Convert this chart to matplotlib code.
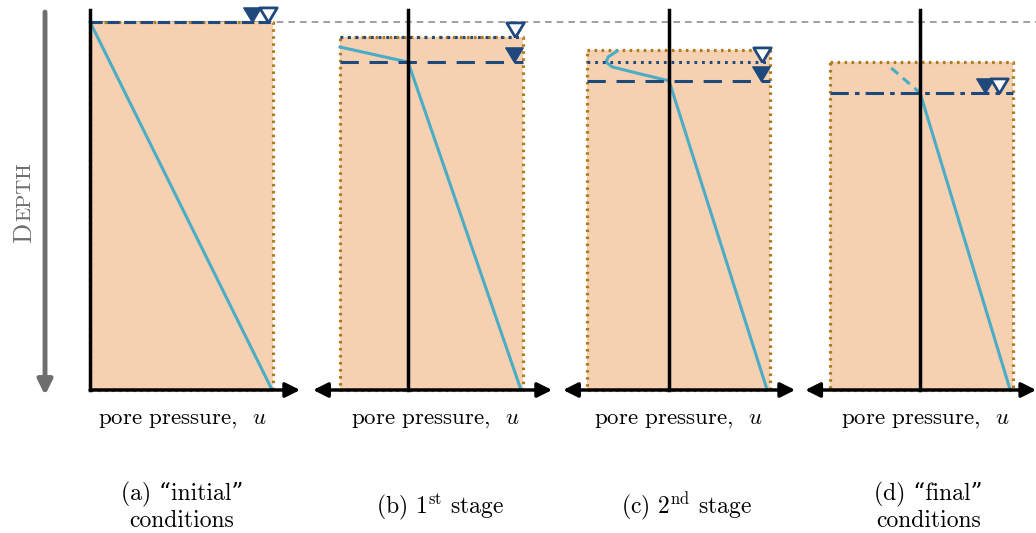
import numpy as np
import matplotlib
matplotlib.use("Agg")
import matplotlib.pyplot as plt

# ---- schematic values (u = pore pressure, z = depth, both normalised) ----
panel_offset = [0.0, 1.738, 3.164, 4.536]      # where u = 0 sits for each panel
box_left = [0.0, -0.372, -0.448, -0.492]
box_width = 1.0
box_top = [0.0, 0.041, 0.076, 0.109]
box_bottom = 1.0
piezo_level = [0.0, 0.041, 0.109, 0.193]       # open triangle
phreatic_level = [0.0, 0.109, 0.160, 0.193]    # filled triangle
piezo_tri_u = [0.973, 0.585, 0.508, 0.432]
phreatic_tri_u = [0.885, 0.579, 0.503, 0.355]
axis_left = [0.0, -0.519, -0.579, -0.628]
axis_right = [1.148, 0.787, 0.689, 0.634]
axis_top = -0.033

pore_u = [
    [0.0, 0.995],
    [-0.372, 0.0, 0.617],
    [-0.284, -0.333, -0.344, -0.311, -0.158, 0.0, 0.536],
    [0.0, 0.492],
]
pore_z = [
    [0.0, 1.0],
    [0.068, 0.109, 1.0],
    [0.079, 0.095, 0.109, 0.122, 0.141, 0.160, 1.0],
    [0.193, 1.0],
]
final_dashed_u = [-0.158, 0.0]
final_dashed_z = [0.125, 0.193]

xlabel = r"pore pressure,  $u$"
xlabel_u = [0.503, 0.148, 0.049, 0.027]
captions = ["(a) \u201cinitial\u201d\nconditions",
            r"(b) 1$^{\rm st}$ stage",
            r"(c) 2$^{\rm nd}$ stage",
            "(d) \u201cfinal\u201d\nconditions"]
caption_u = [0.503, 0.175, 0.093, 0.044]

fill_col = "#F5D1B2"
edge_col = "#AE7A1E"
pore_col = "#4BACC6"
wt_col = "#1F497D"

plt.rcParams['font.family'] = ['cmr10', 'DejaVu Serif']
plt.rcParams['mathtext.fontset'] = 'cm'
plt.rcParams['axes.unicode_minus'] = False

fig = plt.figure(figsize=(10.36, 5.33), dpi=100)
ax = fig.add_axes([0, 0, 1, 1])
ax.set_xlim(-0.492, 5.169)
ax.set_ylim(1.3886, -0.0598)
ax.axis('off')

# reference level across all panels
ax.plot([panel_offset[0], 5.169], [0, 0], color='#909090', lw=1.2, ls=(0, (4, 3)), zorder=1)

tri_down = [(0, 0), (-0.6, 1.0), (0.6, 1.0), (0, 0)]

for i in range(4):
    o = panel_offset[i]
    x0 = o + box_left[i]
    x1 = x0 + box_width
    t = box_top[i]
    ax.fill_between([x0, x1], t, box_bottom, color=fill_col, lw=0, zorder=2)
    ax.plot([x0, x1, x1, x0, x0], [t, t, box_bottom, box_bottom, t],
            color=edge_col, lw=2.3, ls=(0, (0.8, 1.4)), zorder=3)

    # pore pressure profile
    ax.plot(np.array(pore_u[i]) + o, pore_z[i], color=pore_col, lw=2.2, zorder=4)
    if i == 3:
        ax.plot(np.array(final_dashed_u) + o, final_dashed_z, color=pore_col, lw=2.2,
                ls=(0, (3, 2)), zorder=4)

    # water levels
    if i == 0:
        ax.plot([x0, x1], [piezo_level[i]] * 2, color=wt_col, lw=2.2, ls=(0, (4, 1.5)), zorder=5)
    elif i == 3:
        ax.plot([x0, x1], [piezo_level[i]] * 2, color=wt_col, lw=2.2, ls=(0, (6, 2, 1.5, 2)), zorder=5)
    else:
        ax.plot([x0, x1], [piezo_level[i]] * 2, color=wt_col, lw=2.2, ls=(0, (0.9, 1.6)), zorder=5)
        ax.plot([x0, x1], [phreatic_level[i]] * 2, color=wt_col, lw=2.2, ls=(0, (6, 3.5)), zorder=5)

    ax.plot(o + phreatic_tri_u[i], phreatic_level[i], marker=tri_down, ms=21,
            color=wt_col, mec=wt_col, ls='none', zorder=7)
    ax.plot(o + piezo_tri_u[i], piezo_level[i], marker=tri_down, ms=21,
            mfc='white', mec=wt_col, mew=2, ls='none', zorder=7)

    # axes of each panel
    ax.plot([o, o], [axis_top, box_bottom], color='black', lw=2.5, zorder=6)
    style = '-|>' if i == 0 else '<|-|>'
    ax.annotate('', xy=(o + axis_right[i], box_bottom), xytext=(o + axis_left[i], box_bottom),
                arrowprops=dict(arrowstyle=style, color='black', lw=2.5,
                                mutation_scale=22, shrinkA=0, shrinkB=0), zorder=6)

    ax.text(o + xlabel_u[i], 1.0815, xlabel, ha='center', va='center', fontsize=16.5)
    ax.text(o + caption_u[i], 1.318, captions[i], ha='center', va='center',
            fontsize=17, linespacing=1.2)

# depth arrow
ax.annotate('', xy=(-0.246, 1.014), xytext=(-0.246, -0.027),
            arrowprops=dict(arrowstyle='-|>', color='#6E6E6E', lw=3.5,
                            mutation_scale=22, shrinkA=0, shrinkB=0))
ax.text(-0.36, 0.600, "D", rotation=90, ha='center', va='bottom', fontsize=19, color='#6E6E6E')
ax.text(-0.355, 0.540, "EPTH", rotation=90, ha='center', va='bottom', fontsize=15, color='#6E6E6E')

fig.savefig("out.png", dpi=100)
